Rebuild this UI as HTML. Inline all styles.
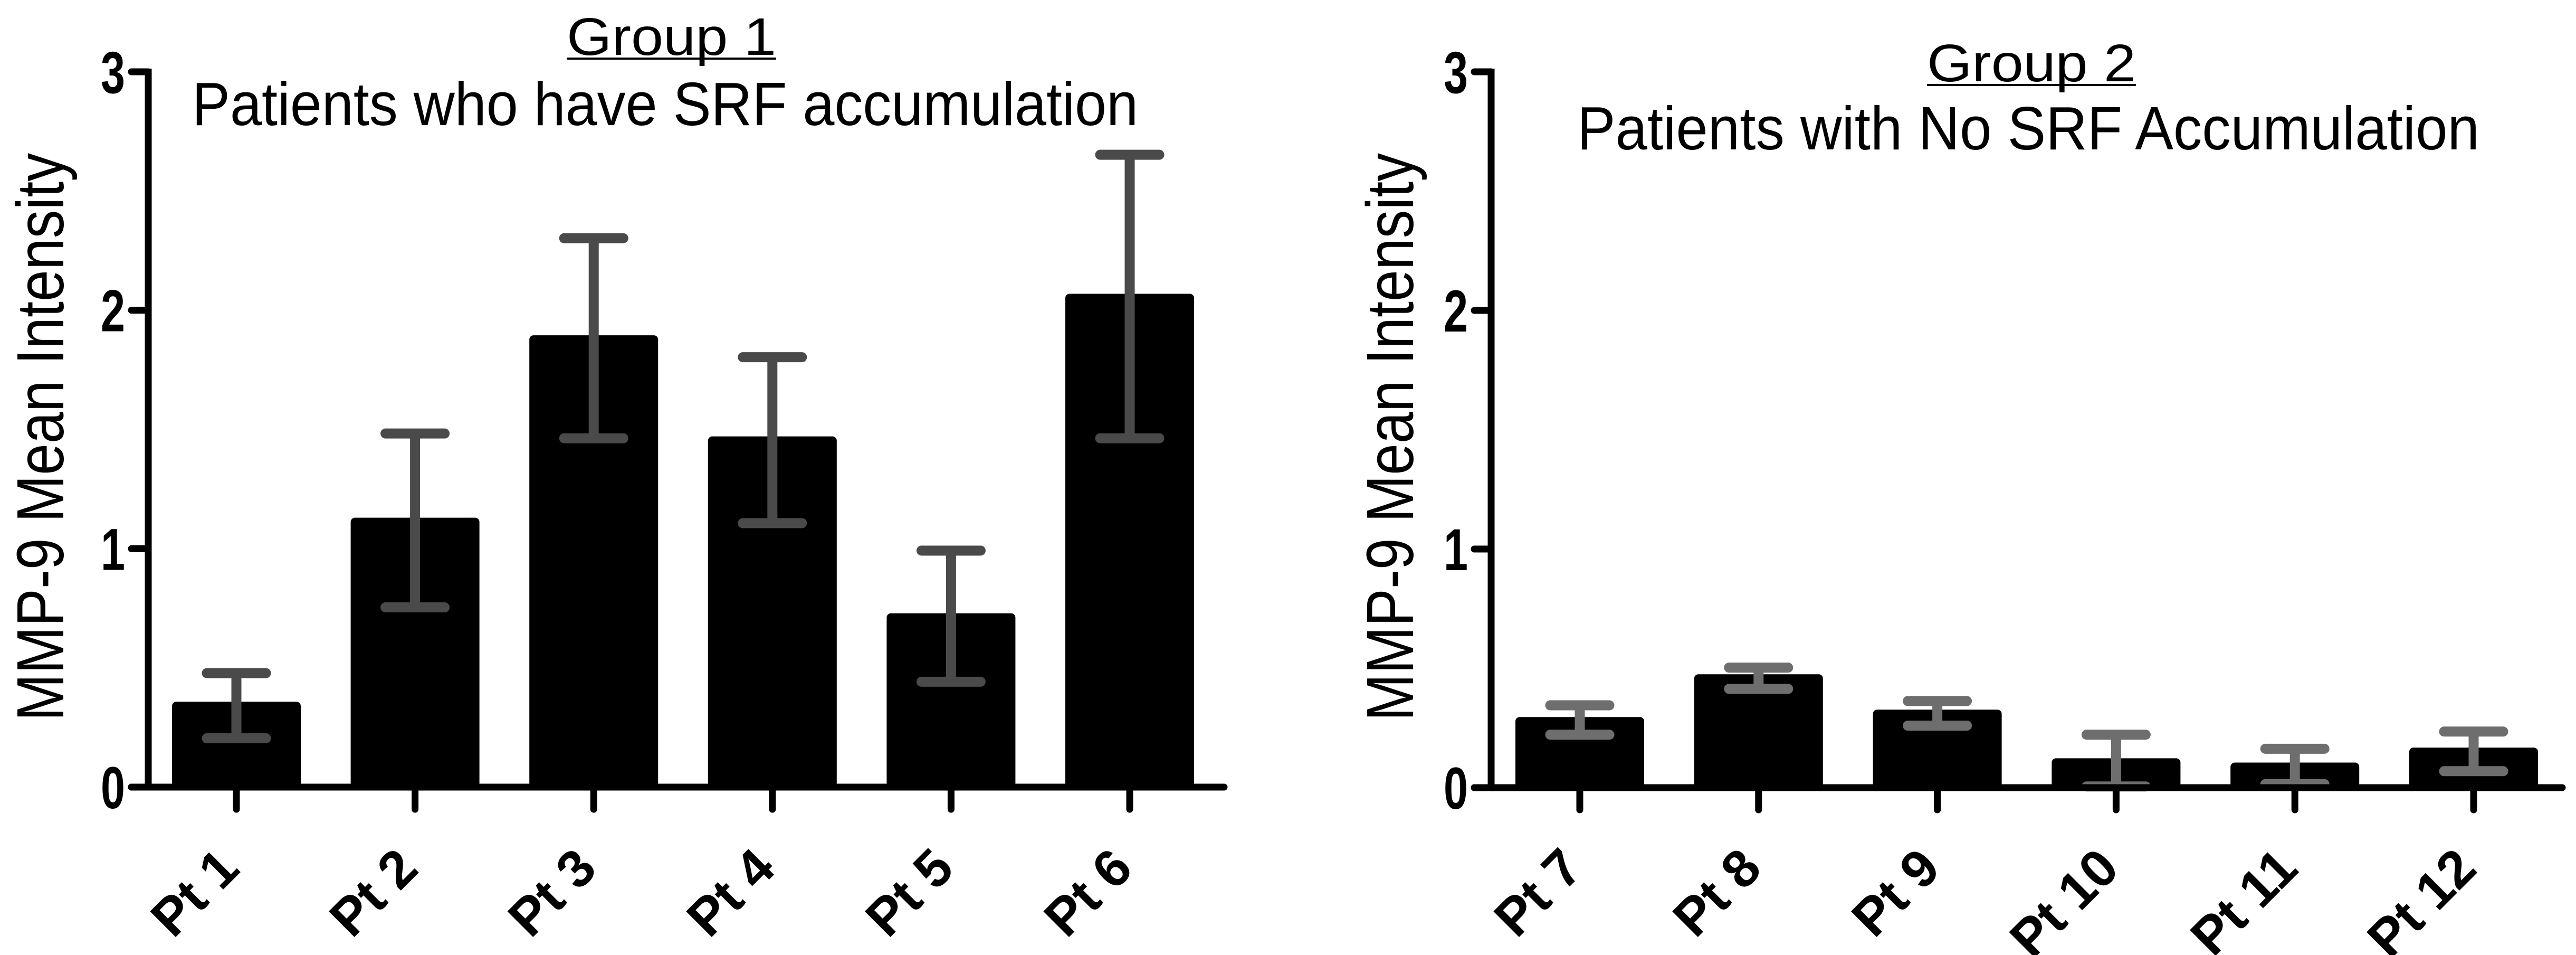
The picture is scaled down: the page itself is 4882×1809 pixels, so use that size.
<!DOCTYPE html>
<html><head><meta charset="utf-8"><style>
html,body{margin:0;padding:0;background:#fff;}
svg{display:block;}
text{font-family:"Liberation Sans",Arial,sans-serif;}
</style></head><body>
<svg id="chart" width="4882" height="1809" viewBox="0 0 4882 1809" xmlns="http://www.w3.org/2000/svg">
<g id="p1"></g>
<g id="p2"></g>
</svg>
<script>
const cats1 = ["Pt 1","Pt 2","Pt 3","Pt 4","Pt 5","Pt 6"];
const means1 = [0.358, 1.13, 1.895, 1.471, 0.729, 2.069];
const upper1 = [0.478, 1.483, 2.302, 1.803, 0.992, 2.652];
const lower1 = [0.205, 0.754, 1.463, 1.107, 0.442, 1.463];
const cats2 = ["Pt 7","Pt 8","Pt 9","Pt 10","Pt 11","Pt 12"];
const means2 = [0.296, 0.475, 0.327, 0.123, 0.105, 0.168];
const upper2 = [0.345, 0.503, 0.363, 0.222, 0.163, 0.235];
const lower2 = [0.222, 0.414, 0.260, 0.005, 0.015, 0.069];
const yTicks = [0, 1, 2, 3];

const NS = "http://www.w3.org/2000/svg";
function mk(parent, tag, attrs, text){
  const e = document.createElementNS(NS, tag);
  for (const k in attrs) e.setAttribute(k, attrs[k]);
  if (text !== undefined) e.textContent = text;
  parent.appendChild(e);
  return e;
}

function panel(g, cfg){
  const yS = v => cfg.y0 - (cfg.y0 - cfg.y3) * v / 3;
  const xS = i => cfg.firstX + i * cfg.step;
  cfg.means.forEach((m, i) => {
    const r = mk(g, "rect", {x: xS(i) - 122, y: yS(m), width: 244, height: cfg.y0 - yS(m), rx: 8, fill: "#000"});
    
    
  });
  cfg.means.forEach((m, i) => {
    const eg = mk(g, "g", {stroke: cfg.errColor, "stroke-linecap": "round", fill: "none"});
    
    
    const x = xS(i), yu = yS(cfg.upper[i]), yl = yS(cfg.lower[i]);
    mk(eg, "line", {x1: x, x2: x, y1: yu, y2: yl, "stroke-width": 19, "stroke-linecap": "butt"});
    mk(eg, "line", {x1: x - 56, x2: x + 56, y1: yu, y2: yu, "stroke-width": 19});
    mk(eg, "line", {x1: x - 56, x2: x + 56, y1: yl, y2: yl, "stroke-width": 19});
  });
  const ya = mk(g, "line", {x1: cfg.ax, x2: cfg.ax, y1: cfg.y3 - 6, y2: cfg.y0 + 6, stroke: "#000", "stroke-width": 13});
  
  
  const xa = mk(g, "line", {x1: cfg.ax - 32, x2: cfg.axEnd, y1: cfg.y0, y2: cfg.y0, stroke: "#000", "stroke-width": 13, "stroke-linecap": "round"});
  
  
  yTicks.forEach(t => {
    const tl = mk(g, "line", {x1: cfg.ax - 32, x2: cfg.ax, y1: yS(t), y2: yS(t), stroke: "#000", "stroke-width": 13, "stroke-linecap": "round"});
    
    
    const lb = mk(g, "text", {x: cfg.ax - 44, y: yS(t) + 40, "text-anchor": "end", "font-size": 112, "font-weight": "bold", textLength: 46, lengthAdjust: "spacingAndGlyphs"}, String(t));
    
    
  });
  cfg.cats.forEach((c, i) => {
    const x = xS(i);
    const tk = mk(g, "line", {x1: x, x2: x, y1: cfg.y0, y2: cfg.y0 + 42, stroke: "#000", "stroke-width": 13, "stroke-linecap": "round"});
    
    
    const lb = mk(g, "text", {x: x + 10, y: 1650, "text-anchor": "end", "font-size": 100, "font-weight": "bold", transform: `rotate(-45 ${x + 10} 1650)`}, c);
    
    
  });
  const yt = mk(g, "text", {x: 0, y: 0, "text-anchor": "middle", "font-size": 126, textLength: 1076, lengthAdjust: "spacingAndGlyphs", transform: `translate(${cfg.ytX} 828) rotate(-90)`}, "MMP-9 Mean Intensity");
  
  
  const t1 = mk(g, "text", {x: cfg.t1x, y: cfg.t1y, "font-size": 100, textLength: cfg.t1w, lengthAdjust: "spacingAndGlyphs"}, cfg.title1);
  
  
  const ul = mk(g, "line", {x1: cfg.t1x, x2: cfg.t1x + cfg.t1w, y1: cfg.t1y + 7, y2: cfg.t1y + 7, stroke: "#000", "stroke-width": 4});
  
  
  const t2 = mk(g, "text", {x: cfg.t2x, y: cfg.t2y, "font-size": 116, textLength: cfg.t2w, lengthAdjust: "spacingAndGlyphs"}, cfg.title2);
  
  
}

panel(document.getElementById("p1"), {
  cats: cats1, means: means1, upper: upper1, lower: lower1,
  y0: 1491, y3: 136, ax: 281, axEnd: 2320, firstX: 448, step: 338.6,
  errColor: "#4a4a4a", ytX: 120,
  title1: "Group 1", t1x: 1074, t1y: 104, t1w: 397,
  title2: "Patients who have SRF accumulation", t2x: 364, t2y: 237, t2w: 1793
});
panel(document.getElementById("p2"), {
  cats: cats2, means: means2, upper: upper2, lower: lower2,
  y0: 1492, y3: 136, ax: 2826, axEnd: 4856, firstX: 2994, step: 338.8,
  errColor: "#6e6e6e", ytX: 2678,
  title1: "Group 2", t1x: 3652, t1y: 154, t1w: 396,
  title2: "Patients with No SRF Accumulation", t2x: 2989, t2y: 283, t2w: 1710
});
</script>
</body></html>
